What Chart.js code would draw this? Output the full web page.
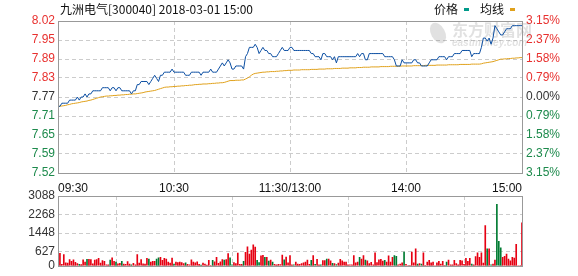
<!DOCTYPE html>
<html><head><meta charset="utf-8">
<script src="https://cdn.jsdelivr.net/npm/chart.js@4.4.1/dist/chart.umd.min.js"></script>
<style>
html,body{margin:0;padding:0;background:#fff;width:578px;height:276px;overflow:hidden}
canvas{position:absolute;left:0;top:0}
</style></head><body>
<canvas id="p" width="578" height="276"></canvas>
<canvas id="v" width="578" height="276"></canvas>
<script>
const stockTitle = '九洲电气[300040] 2018-03-01 15:00';
const legendNames = ['价格', '均线'];
const watermarkText = ['东方财富网', 'eastmoney.com'];
const prevClose = 7.77;
const priceMin = 7.525, priceMax = 8.015;
const priceTickLabels = ['7.52','7.59','7.65','7.71','7.77','7.83','7.89','7.95','8.02'];
const pctTickLabels = ['3.15%','2.37%','1.58%','0.79%','0.00%','0.79%','1.58%','2.37%','3.15%'];
const timeTickMinutes = [0, 60, 120, 180, 240];
const timeTickLabels = ['09:30','10:30','11:30/13:00','14:00','15:00'];
const volTicks = [0, 627, 1448, 2268, 3088];

const price = [
7.74,7.74,7.75,7.75,7.75,7.75,7.76,7.76,7.76,7.76,
7.77,7.76,7.77,7.77,7.78,7.77,7.78,7.78,7.79,7.79,
7.79,7.79,7.79,7.80,7.80,7.80,7.80,7.79,7.80,7.80,
7.79,7.80,7.80,7.79,7.79,7.79,7.79,7.79,7.78,7.79,
7.79,7.81,7.81,7.82,7.82,7.82,7.82,7.81,7.82,7.83,
7.84,7.83,7.82,7.84,7.84,7.85,7.85,7.85,7.85,7.86,
7.85,7.85,7.85,7.85,7.85,7.85,7.84,7.84,7.84,7.85,
7.85,7.85,7.85,7.85,7.84,7.85,7.85,7.85,7.85,7.86,
7.85,7.85,7.85,7.86,7.87,7.88,7.87,7.88,7.89,7.88,
7.86,7.86,7.87,7.87,7.87,7.87,7.86,7.90,7.91,7.93,
7.93,7.93,7.94,7.93,7.91,7.92,7.93,7.92,7.92,7.91,
7.91,7.90,7.90,7.90,7.91,7.92,7.93,7.92,7.92,7.92,
7.93,7.93,7.92,7.92,7.92,7.92,7.92,7.92,7.92,7.92,
7.92,7.91,7.91,7.90,7.90,7.90,7.89,7.91,7.91,7.90,
7.90,7.90,7.89,7.90,7.88,7.90,7.90,7.90,7.90,7.90,
7.90,7.90,7.90,7.90,7.90,7.91,7.90,7.91,7.91,7.89,
7.89,7.91,7.91,7.91,7.91,7.91,7.91,7.91,7.91,7.90,
7.90,7.90,7.90,7.90,7.89,7.87,7.87,7.87,7.89,7.88,
7.88,7.88,7.88,7.88,7.89,7.89,7.88,7.88,7.87,7.87,
7.87,7.87,7.88,7.89,7.89,7.89,7.89,7.90,7.90,7.90,
7.90,7.89,7.90,7.90,7.90,7.91,7.91,7.91,7.91,7.92,
7.92,7.92,7.92,7.92,7.90,7.91,7.91,7.91,7.91,7.93,
7.96,7.96,7.95,7.96,7.94,7.96,8.00,7.99,7.98,7.97,
7.97,7.98,7.99,7.99,7.99,8.00,8.00,8.00,8.00,8.00,
8.00
];

const avgPrice = [
7.740,7.740,7.741,7.742,
7.743,7.745,7.746,7.748,
7.749,7.750,7.751,7.752,7.754,
7.755,7.756,7.757,7.759,
7.760,7.762,7.764,7.766,7.768,7.770,
7.771,7.772,7.773,7.773,7.774,7.774,7.775,
7.775,7.776,7.776,7.777,7.777,7.778,7.778,7.779,7.779,7.780,7.780,
7.781,7.782,7.783,7.784,7.786,
7.787,7.788,7.789,7.790,7.791,
7.793,7.795,7.797,7.799,7.801,
7.802,7.802,7.803,7.803,7.804,
7.804,7.805,7.805,7.806,7.806,7.807,7.807,7.808,7.808,7.809,7.810,
7.810,7.811,7.811,7.812,7.812,7.812,7.813,7.813,7.814,7.814,
7.815,7.815,7.816,7.816,7.817,
7.819,7.821,7.823,
7.823,7.823,7.824,7.824,7.824,7.825,7.825,
7.828,7.831,7.835,7.840,7.844,
7.846,7.847,7.848,7.849,7.850,7.850,7.851,7.851,7.852,7.852,7.852,
7.853,7.853,7.854,7.854,7.855,7.855,7.856,
7.856,7.856,7.857,7.857,7.857,7.857,7.858,7.858,7.858,7.858,
7.858,7.859,7.859,7.859,7.859,7.860,7.860,7.860,7.860,7.861,7.861,
7.861,7.861,7.862,7.862,7.862,7.862,7.863,7.863,7.863,7.863,7.864,7.864,7.864,7.864,7.865,7.865,
7.865,7.866,7.866,7.866,7.866,7.867,7.867,7.867,7.867,7.867,7.868,7.868,7.868,7.868,7.868,7.869,7.869,7.869,7.869,
7.869,7.869,7.870,7.870,7.870,7.870,7.870,7.870,7.871,7.871,7.871,
7.871,7.871,7.871,7.872,7.872,7.872,7.872,7.872,7.872,7.873,7.873,7.873,7.873,7.873,7.873,7.874,
7.874,7.874,7.874,7.874,7.874,7.875,7.875,7.875,7.875,7.875,7.875,7.876,7.876,7.876,7.876,7.876,
7.877,7.879,7.880,7.881,7.882,7.883,7.884,7.886,7.888,7.890,7.892,
7.892,7.893,7.893,7.894,7.894,7.895,7.895,7.896,7.896,7.897,7.897
];

const volume = [
550,550,60,500,130,120,280,200,260,150,
100,60,50,260,160,290,290,280,90,250,
270,330,120,230,200,40,40,250,350,200,
160,90,110,200,80,60,190,80,40,110,
40,500,120,280,90,80,330,300,160,200,
200,300,350,380,240,330,300,160,120,340,
80,160,140,160,140,100,130,60,40,260,
160,130,180,60,30,120,80,30,240,20,
240,180,370,110,180,270,250,270,540,350,
40,140,100,560,60,60,200,600,840,520,
700,930,830,240,140,440,460,380,380,210,
250,160,70,40,60,50,470,260,390,130,
450,40,40,160,80,60,100,130,170,250,
60,240,450,60,290,40,40,230,230,300,
300,220,110,100,50,120,290,220,170,170,
40,40,40,450,130,170,370,300,450,250,
220,100,150,40,570,140,260,290,210,240,
170,440,170,370,450,420,40,80,130,610,
60,0,0,610,130,750,80,100,80,570,
0,160,240,130,160,0,130,200,80,200,
0,160,250,40,40,240,100,40,240,220,
60,330,200,330,80,40,410,570,380,570,
120,1780,750,750,40,80,250,2720,1080,800,
370,420,520,300,220,370,340,950,0,0,
1900
];

const C = {
  red: '#e8312f', green: '#1d8a4c', neutral: '#333333',
  line: '#0b4ea2', avg: '#e0a11b', legendPrice: '#009a8a',
  grid: '#cccccc', frame: '#999999',
  volUp: '#e60012', volDown: '#007b32'
};
const tickFont = {family: '"Liberation Sans", Arial, sans-serif', size: 12};
const cjkFont = '12px "Noto Sans CJK SC", sans-serif';

function labelColor(i) { return i < 4 ? C.green : (i === 4 ? C.neutral : C.red); }

const framePlugin = {
  id: 'frame',
  afterDraw(chart) {
    const {ctx, chartArea: a} = chart;
    ctx.save();
    ctx.strokeStyle = C.frame; ctx.lineWidth = 1;
    ctx.strokeRect(Math.round(a.left) + 0.5, Math.round(a.top) + 0.5,
      Math.round(a.right - a.left), Math.round(a.bottom - a.top));
    ctx.restore();
  }
};

const headerPlugin = {
  id: 'header',
  beforeDatasetsDraw(chart) {
    const ctx = chart.ctx;
    ctx.save();
    ctx.fillStyle = 'rgba(120,120,120,0.22)';
    ctx.font = 'bold 16px "Noto Sans CJK SC", sans-serif';
    ctx.textBaseline = 'middle';
    ctx.fillText(watermarkText[0], 452, 30);
    ctx.font = 'italic bold 10px "Liberation Sans", sans-serif';
    ctx.fillText(watermarkText[1], 452, 43);
    ctx.beginPath();
    ctx.ellipse(438, 33, 7, 11, -0.5, 0, Math.PI * 2);
    ctx.fill();
    ctx.restore();
  },
  afterDraw(chart) {
    const ctx = chart.ctx;
    ctx.save();
    ctx.fillStyle = '#111';
    ctx.font = cjkFont;
    ctx.textBaseline = 'middle';
    ctx.fillText(stockTitle, 60, 9);
    ctx.fillText(legendNames[0], 434, 9);
    ctx.fillStyle = C.legendPrice; ctx.fillRect(464, 8, 5, 3);
    ctx.fillStyle = '#111';
    ctx.fillText(legendNames[1], 480, 9);
    ctx.fillStyle = C.avg; ctx.fillRect(510, 8, 5, 3);
    ctx.restore();
  }
};

const priceTicks = () => priceTickLabels.map((_, i) => ({value: priceMin + i * (priceMax - priceMin) / (priceTickLabels.length - 1)}));

new Chart(document.getElementById('p'), {
  type: 'line',
  data: {
    datasets: [
      {data: price.map((y, x) => ({x, y})), borderColor: C.line, borderWidth: 1, pointRadius: 0, tension: 0},
      {data: avgPrice.map((y, x) => ({x, y})), borderColor: C.avg, borderWidth: 1, pointRadius: 0, tension: 0}
    ]
  },
  options: {
    responsive: false, animation: false,
    layout: {padding: {top: 21, bottom: 0, left: 0, right: 0}},
    plugins: {legend: {display: false}, tooltip: {enabled: false}},
    scales: {
      x: {
        type: 'linear', min: 0, max: 240,
        afterBuildTicks: s => { s.ticks = timeTickMinutes.map(v => ({value: v})); },
        afterFit: s => { s.height = 103; },
        ticks: {callback: (v, i) => timeTickLabels[i], align: 'inner', maxRotation: 0, autoSkip: false,
          font: tickFont, color: '#111', padding: 8},
        grid: {color: C.grid, drawTicks: false},
        border: {display: false, dash: [4, 3]}
      },
      y: {
        position: 'left', min: priceMin, max: priceMax,
        afterBuildTicks: s => { s.ticks = priceTicks(); },
        afterFit: s => { s.width = 58; },
        ticks: {callback: (v, i) => priceTickLabels[i], font: tickFont, padding: 3,
          color: c => labelColor(c.index)},
        grid: {color: C.grid, drawTicks: false},
        border: {display: false, dash: [4, 3]}
      },
      y2: {
        position: 'right', min: priceMin, max: priceMax,
        afterBuildTicks: s => { s.ticks = priceTicks(); },
        afterFit: s => { s.width = 56; },
        ticks: {callback: (v, i) => pctTickLabels[i], font: tickFont, padding: 4,
          color: c => labelColor(c.index)},
        grid: {display: false, drawTicks: false},
        border: {display: false}
      }
    }
  },
  plugins: [framePlugin, headerPlugin]
});

const volColors = volume.map((v, i) => (i > 0 && price[i] < price[i - 1]) ? C.volDown : C.volUp);

new Chart(document.getElementById('v'), {
  type: 'bar',
  data: {
    datasets: [{data: volume.map((y, x) => ({x, y})), backgroundColor: volColors, barThickness: 1, borderWidth: 0}]
  },
  options: {
    responsive: false, animation: false,
    layout: {padding: {top: 196, bottom: 0, left: 0, right: 56}},
    plugins: {legend: {display: false}, tooltip: {enabled: false}},
    scales: {
      x: {
        type: 'linear', min: 0, max: 240, offset: false,
        afterBuildTicks: s => { s.ticks = timeTickMinutes.map(v => ({value: v})); },
        afterFit: s => { s.height = 5; },
        ticks: {display: false},
        grid: {color: C.grid, drawTicks: false},
        border: {display: false, dash: [4, 3]}
      },
      y: {
        position: 'left', min: volTicks[0], max: volTicks[volTicks.length - 1],
        afterBuildTicks: s => { s.ticks = volTicks.map(v => ({value: v})); },
        afterFit: s => { s.width = 58; },
        ticks: {callback: (v, i) => String(volTicks[i]), font: tickFont, padding: 3, color: C.neutral},
        grid: {color: C.grid, drawTicks: false},
        border: {display: false, dash: [4, 3]}
      }
    }
  },
  plugins: [framePlugin]
});
</script>
</body></html>
